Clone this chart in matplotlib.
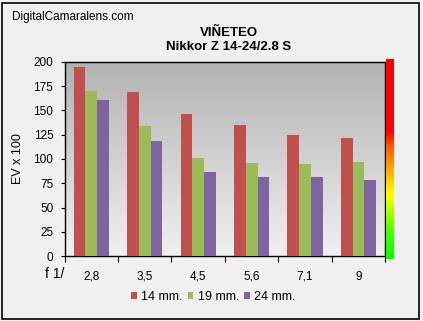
import numpy as np
import matplotlib
matplotlib.use("Agg")
import matplotlib.pyplot as plt
from matplotlib.colors import LinearSegmentedColormap
from matplotlib.patches import Rectangle

apertures = ["2,8", "3,5", "4,5", "5,6", "7,1", "9"]
series_names = ["14 mm.", "19 mm.", "24 mm."]
v14 = [195, 169, 146, 135, 125, 122]
v19 = [170, 134, 101, 96, 95, 97]
v24 = [161, 118, 87, 81, 81, 78]
series = [v14, v19, v24]
colors = ["#C0504D", "#9BBB59", "#8064A2"]
yticks = [0, 25, 50, 75, 100, 125, 150, 175, 200]

plt.rcParams['font.family'] = ['Liberation Sans', 'DejaVu Sans']

W, H = 423, 321
fig = plt.figure(figsize=(W / 100, H / 100), dpi=100, facecolor="#F0F0F0")

# outer border
fig.patches.append(Rectangle((2 / W, 2 / H), 417 / W, 316 / H, transform=fig.transFigure,
                             fill=False, edgecolor="black", linewidth=1.2))

def px(l, t, r, b):
    return [l / W, 1 - b / H, (r - l) / W, (b - t) / H]

ax = fig.add_axes(px(64.5, 61.7, 385.3, 256.2))
ax.set_facecolor("#F0F0F0")
x = np.arange(len(apertures))
bw = 0.22
for i, (vals, c, name) in enumerate(zip(series, colors, series_names)):
    ax.bar(x + (i - 1) * bw, vals, width=bw, color=c, label=name, zorder=3, linewidth=0)

ax.set_xlim(-0.5, len(apertures) - 0.5)
ax.set_ylim(0, 200)
# gradient background
grad = np.linspace(0, 1, 256).reshape(-1, 1)
bg = LinearSegmentedColormap.from_list("bg", ["#F0F0F0", "#B2B2B2"])
ax.imshow(grad, cmap=bg, aspect="auto", extent=(-0.5, len(apertures) - 0.5, 0, 200),
          origin="lower", zorder=0)

for s in ax.spines.values():
    s.set_color("black")
    s.set_linewidth(1.0)

ax.set_yticks(yticks)
ax.tick_params(axis="y", length=3, pad=5, labelsize=8.5, direction="out", width=0.8)
ax.set_xticks(np.arange(-0.5, len(apertures)), labels=[""] * (len(apertures) + 1))
ax.tick_params(axis="x", which="major", length=4, direction="out", width=0.8)
ax.set_xticks(x, labels=apertures, minor=True)
ax.tick_params(axis="x", which="minor", length=0, pad=10.5, labelsize=8.5)
ax.set_ylabel("EV x 100", fontsize=9, labelpad=6.5)

fig.text(45 / W, 1 - 274 / H, "f 1/", fontsize=10, ha="left", va="center")
fig.text(12 / W, 1 - 17 / H, "DigitalCamaralens.com", fontsize=8.5, ha="left", va="center")
fig.text(229 / W, 1 - 33 / H, "VIÑETEO", fontsize=9.5, fontweight="bold", ha="center", va="center")
fig.text(229 / W, 1 - 47 / H, "Nikkor Z 14-24/2.8 S", fontsize=9.5, fontweight="bold",
         ha="center", va="center")

# color bar
cax = fig.add_axes(px(385.7, 59, 393.7, 258.7))
cm = LinearSegmentedColormap.from_list(
    "vig", [(0, "#00FF00"), (0.15, "#55FF00"), (0.32, "#FFFF00"), (0.55, "#FF6600"),
            (0.64, "#FF0000"), (1, "#FF0000")])
cax.imshow(grad, cmap=cm, aspect="auto", origin="lower")
cax.set_axis_off()

leg = fig.legend(loc="center", bbox_to_anchor=(213.5 / W, 1 - 297 / H), ncol=3, frameon=False,
                 fontsize=9, handlelength=0.45, handleheight=0.45, handletextpad=0.35,
                 columnspacing=0.4)

fig.savefig("out.png", dpi=100, facecolor=fig.get_facecolor())
